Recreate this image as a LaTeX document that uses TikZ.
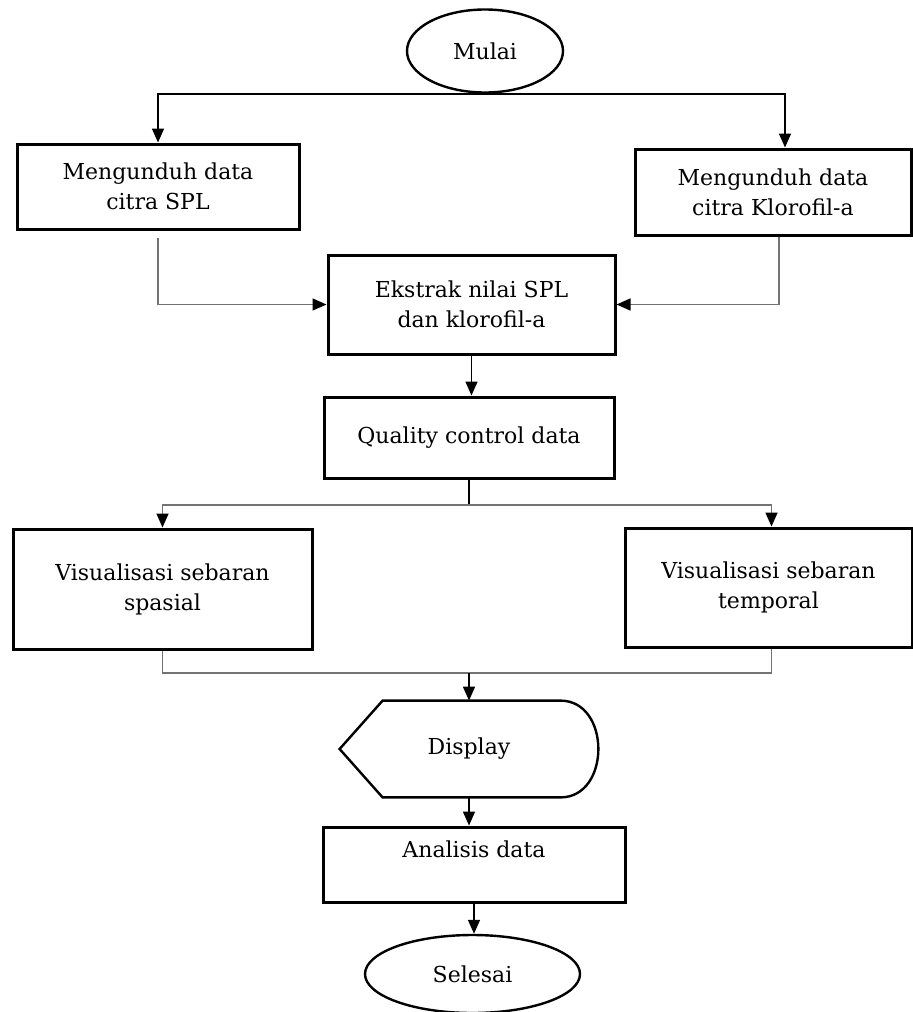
\documentclass[tikz,border=0pt]{standalone}
\usepackage{fontspec}
\setmainfont{DejaVu Serif}
\usetikzlibrary{shapes.geometric,arrows.meta}

\begin{document}
\begin{tikzpicture}[x=0.5pt,y=-0.5pt,
    every node/.style={font=\fontsize{11}{15}\selectfont, align=center, text=black},
    proses/.style={draw, line width=1.5pt, inner sep=0pt},
    terminal/.style={draw, ellipse, line width=1.2pt, inner sep=0pt},
    alur/.style={line width=0.8pt, -{Triangle[length=7pt,width=6pt,color=black]}},
    alurabu/.style={alur, draw=black!55},
    ]
  \useasboundingbox (0,0) rectangle (913,1012);

  \node[terminal, minimum width=78pt, minimum height=41.5pt] (mulai) at (485,51) {Mulai};
  \node[proses, minimum width=141pt, minimum height=42.5pt] (spl) at (158,186.5) {Mengunduh data\\citra SPL};
  \node[proses, minimum width=138pt, minimum height=43pt] (klorofil) at (773,192) {Mengunduh data\\citra Klorofil-a};
  \node[proses, minimum width=143.5pt, minimum height=49.5pt] (ekstrak) at (471.5,304.5) {Ekstrak nilai SPL\\dan klorofil-a};
  \node[proses, minimum width=145pt, minimum height=40.5pt] (qc) at (469,437.5) {Quality control data};
  \node[proses, minimum width=149.5pt, minimum height=60pt] (spasial) at (162.5,589) {Visualisasi sebaran\\spasial};
  \node[proses, minimum width=143.5pt, minimum height=59.5pt] (temporal) at (768.5,587.5) {Visualisasi sebaran\\temporal};
  \node[minimum width=129pt, minimum height=48pt, inner sep=0pt] (display) at (469,749) {Display};
  \node[proses, minimum width=151pt, minimum height=37.5pt] (analisis) at (474,864.5) {Analisis data\\\mbox{}};
  \node[terminal, minimum width=107.5pt, minimum height=39pt] (selesai) at (472.5,974) {Selesai};

  % bentuk display
  \draw[line width=1.2pt] (display.west) -- ([xshift=21.5pt]display.north west)
    -- ([xshift=-19pt]display.north east)
    .. controls +(25.3pt,0pt) and +(25.3pt,0pt) .. ([xshift=-19pt]display.south east)
    -- ([xshift=21.5pt]display.south west) -- cycle;

  \coordinate (cabang) at (469,505);
  \coordinate (gabung) at (469,673);

  \draw[alur] (mulai.south) -| (spl.north);
  \draw[alur] (mulai.south) -| ([xshift=6pt]klorofil.north);
  \draw[alurabu] ([yshift=-3.5pt]spl.south) |- (ekstrak.west);
  \draw[alurabu] ([xshift=3pt]klorofil.south) |- (ekstrak.east);
  \draw[alur] (ekstrak.south) -- (ekstrak.south |- qc.north);
  \draw[line width=0.8pt] (qc.south) -- (cabang);
  \draw[alurabu] (cabang) -| (spasial.north);
  \draw[alurabu] (cabang) -| ([xshift=1.5pt]temporal.north);
  \draw[line width=0.8pt, draw=black!55] (spasial.south) |- (gabung);
  \draw[line width=0.8pt, draw=black!55] ([xshift=1.5pt]temporal.south) |- (gabung);
  \draw[alur] (gabung) -- (display.north);
  \draw[alur] (display.south) -- (display.south |- analisis.north);
  \draw[alur] (analisis.south) -- (analisis.south |- selesai.north);
\end{tikzpicture}
\end{document}
